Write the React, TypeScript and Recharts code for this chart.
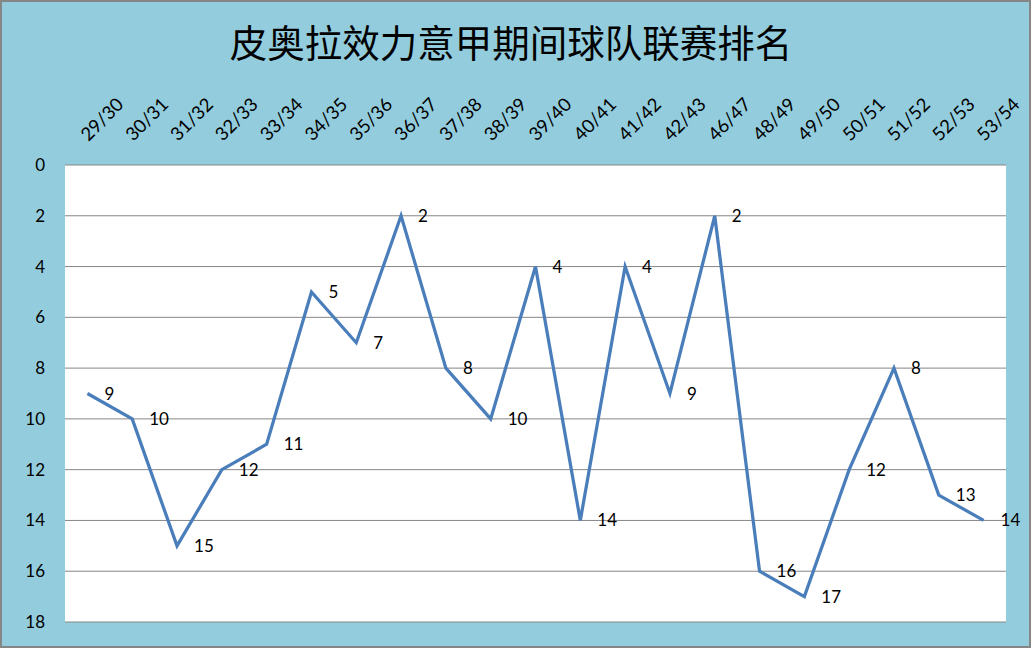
import React from "react";
import {
  LineChart,
  Line,
  XAxis,
  YAxis,
  CartesianGrid,
  LabelList,
} from "recharts";

// Seasons and league positions
const seasons = [
  "29/30", "30/31", "31/32", "32/33", "33/34", "34/35", "35/36",
  "36/37", "37/38", "38/39", "39/40", "40/41", "41/42", "42/43",
  "46/47", "48/49", "49/50", "50/51", "51/52", "52/53", "53/54",
];
const ranks = [9, 10, 15, 12, 11, 5, 7, 2, 8, 10, 4, 14, 4, 9, 2, 16, 17, 12, 8, 13, 14];
const rankTicks = [0, 2, 4, 6, 8, 10, 12, 14, 16, 18];

const title = "皮奥拉效力意甲期间球队联赛排名";

const data = seasons.map((season, i) => ({ season, rank: ranks[i] }));

const W = 1031;
const H = 648;
const numFont = "Lato, 'Open Sans', sans-serif";

const SeasonTick = (props: any) => {
  const { x, y, payload } = props;
  const ox = x + 1;
  const oy = y - 15;
  return (
    <text
      x={ox}
      y={oy}
      textAnchor="start"
      fill="#000"
      fontSize={18.5}
      fontFamily={numFont}
      transform={`rotate(-45, ${ox}, ${oy})`}
    >
      {payload.value}
    </text>
  );
};

const RankLabel = (props: any) => {
  const { x, y, value } = props;
  return (
    <text x={x + 17} y={y + 6} fill="#000" fontSize={17} fontFamily={numFont}>
      {value}
    </text>
  );
};

export default function App() {
  return (
    <div style={{ position: "relative", width: W, height: H }}>
      <style>{"body{margin:0}"}</style>
      <LineChart
        width={W}
        height={H}
        data={data}
        margin={{ top: 60, right: 25, bottom: 26, left: 0 }}
        style={{ background: "#93CDDD" }}
      >
        <CartesianGrid
          horizontal
          vertical={false}
          stroke="#868686"
          fill="#ffffff"
          fillOpacity={1}
        />
        <XAxis
          dataKey="season"
          orientation="top"
          height={105}
          axisLine={false}
          tickLine={false}
          interval={0}
          padding={{ left: 22.4, right: 22.4 }}
          tick={<SeasonTick />}
        />
        <YAxis
          reversed
          domain={[0, 18]}
          ticks={rankTicks}
          width={65}
          axisLine={false}
          tickLine={false}
          tickMargin={14}
          tick={{ fill: "#000", fontSize: 17, fontFamily: numFont }}
        />
        <Line
          type="linear"
          dataKey="rank"
          stroke="#4A7EBB"
          strokeWidth={3.25}
          dot={false}
          isAnimationActive={false}
        >
          <LabelList dataKey="rank" content={<RankLabel />} />
        </Line>
      </LineChart>
      <svg
        width={W}
        height={80}
        style={{ position: "absolute", left: 0, top: 0, pointerEvents: "none" }}
      >
        <text
          x={511}
          y={57}
          textAnchor="middle"
          fill="#000"
          fontSize={37.5}
          fontFamily="'Noto Sans CJK SC', sans-serif"
        >
          {title}
        </text>
      </svg>
      <div
        style={{
          position: "absolute",
          inset: 0,
          border: "2px solid #868686",
          boxSizing: "border-box",
          pointerEvents: "none",
        }}
      />
    </div>
  );
}
